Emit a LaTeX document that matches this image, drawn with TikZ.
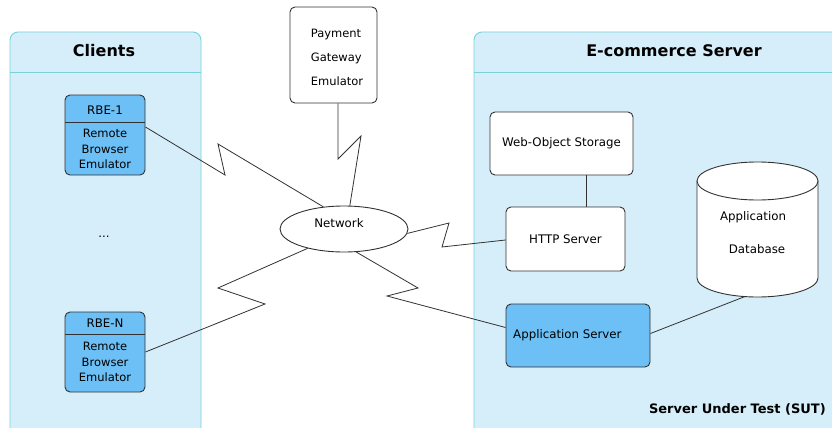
\documentclass[tikz,border=0pt]{standalone}
\usepackage{fontspec}
\setmainfont{DejaVu Sans}
\usetikzlibrary{shapes.geometric}
\definecolor{panelfill}{RGB}{214,238,250}
\definecolor{panelline}{RGB}{120,210,215}
\definecolor{boxblue}{RGB}{108,192,245}
\definecolor{lineg}{RGB}{50,50,50}
\begin{document}
\begin{tikzpicture}[x=1pt,y=-1pt,
  panel/.style={fill=panelfill,draw=panelline,line width=0.9pt,rounded corners=8pt},
  whitebox/.style={draw=lineg,fill=white,rounded corners=5pt,line width=0.9pt,inner sep=0pt},
  bluebox/.style={draw=lineg,fill=boxblue,rounded corners=5pt,line width=0.9pt,inner sep=0pt},
  wire/.style={draw=lineg,line width=0.8pt},
  lbl/.style={font=\fontsize{11.8}{14}\selectfont,inner sep=0pt},
  ttl/.style={font=\fontsize{16}{19}\selectfont\bfseries,inner sep=0pt}]
\useasboundingbox (0,0) rectangle (832,428);
\clip (0,0) rectangle (832,428);
\fill[white] (0,0) rectangle (832,428);
% panels
\path[panel] (10,450) -- (10,32) -- (201,32) -- (201,450);
\draw[panelline,line width=0.9pt] (10,72) -- (201,72);
\path[panel] (474,450) -- (474,32) -- (850,32) -- (850,450);
\draw[panelline,line width=0.9pt] (474,72) -- (850,72);
\node[ttl] (tcl) at (104,51) {Clients};
\node[ttl] (tec) at (674,51) {E-commerce Server};
\node[font=\fontsize{13}{15}\selectfont\bfseries,inner sep=0pt,anchor=east] (sut) at (826,409) {Server Under Test (SUT)};
% RBE boxes
\node[bluebox,minimum width=80,minimum height=80] (rbe1) at (105,135) {};
\draw[lineg,line width=0.9pt] (65,122) -- (145,122);
\node[lbl] (rbe1t) at (105,110) {RBE-1};
\node[lbl,align=center,font=\fontsize{11.5}{15.5}\selectfont] (rbe1b) at (105,149) {Remote\\Browser\\Emulator};
\node[bluebox,minimum width=80,minimum height=80] (rbeN) at (105,352) {};
\draw[lineg,line width=0.9pt] (65,334) -- (145,334);
\node[lbl] (rbeNt) at (105,323) {RBE-N};
\node[lbl,align=center,font=\fontsize{11.5}{15.5}\selectfont] (rbeNb) at (105,362) {Remote\\Browser\\Emulator};
\node[lbl] (dots) at (104,237) {...};
% payment
\node[whitebox,minimum width=87,minimum height=96] (pay) at (333.5,55) {};
\node[lbl,align=left,font=\fontsize{11.5}{24}\selectfont] (payt) at (337,57) {Payment\\Gateway\\Emulator};
% network
\node[ellipse,draw=lineg,fill=white,line width=0.9pt,minimum width=128,minimum height=46,inner sep=0pt,lbl] (net) at (344,229) {};
\node[lbl] (nett) at (339,223) {Network};
% servers
\node[whitebox,minimum width=143,minimum height=63,lbl] (wos) at (561.5,143.5) {Web-Object Storage};
\node[whitebox,minimum width=119,minimum height=64,lbl] (http) at (565.5,239) {HTTP Server};
\node[bluebox,minimum width=144,minimum height=63] (app) at (578,335.5) {};
\node[lbl,anchor=west] (appt) at (513,335.5) {Application Server};
% database cylinder
\filldraw[draw=lineg,fill=white,line width=0.9pt] (697,181) -- (697,278) arc[start angle=180,end angle=360,x radius=60.5pt,y radius=19pt] -- (818,181) -- cycle;
\filldraw[draw=lineg,fill=white,line width=0.9pt] (757.5,181) ellipse [x radius=60.5pt,y radius=19pt];
\node[lbl] (dbt1) at (753,217) {Application};
\node[lbl] (dbt2) at (757,249) {Database};
\coordinate (dbb) at (745,296.5);
% connectors
\draw[wire] ([yshift=8]rbe1.east) -- (225,175) -- (218,144) -- (net.133);
\draw[wire] ([xshift=4.5]pay.south) -- (338,159) -- (361,136) -- (net.76);
\draw[wire] (net.-4) -- (449,223) -- (442,247) -- ([yshift=-1]http.west);
\draw[wire] (net.-152) -- (218,288) -- (265,304) -- (rbeN.east);
\draw[wire] (net.-62) -- (418,288) -- (387,296) -- ([yshift=8]app.west);
\draw[wire] ([xshift=24.5]wos.south) -- ([xshift=20.5]http.north);
\draw[wire] ([yshift=2]app.east) -- (dbb);
\end{tikzpicture}
\end{document}
